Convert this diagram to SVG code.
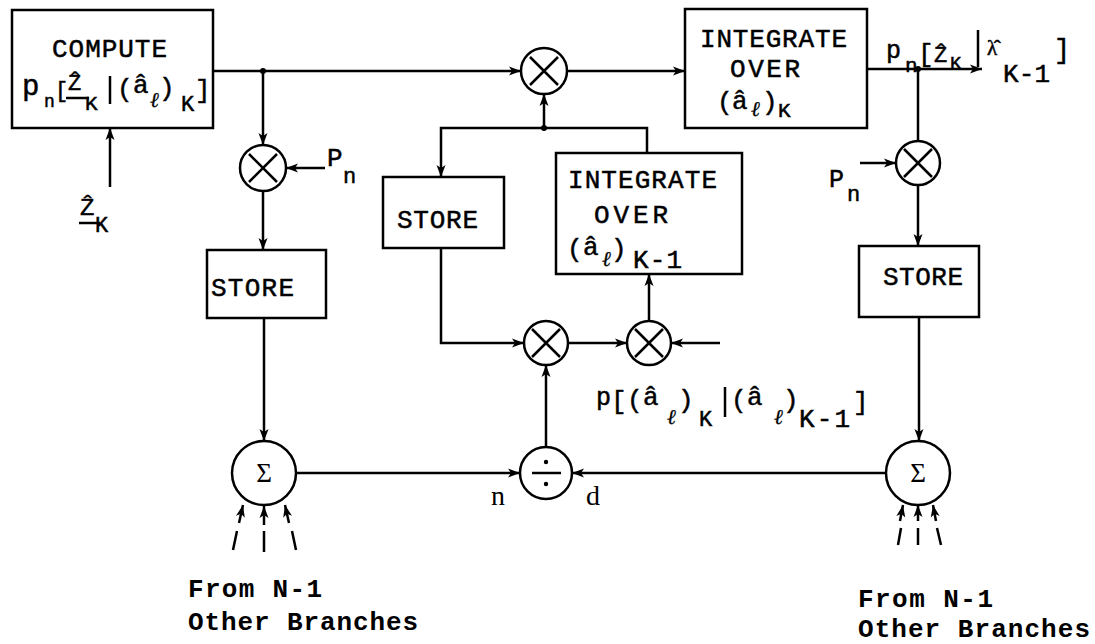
<svg xmlns="http://www.w3.org/2000/svg" width="1095" height="644" viewBox="0 0 1095 644">
<defs>
<marker id="ah" markerUnits="userSpaceOnUse" markerWidth="13" markerHeight="10" refX="12" refY="5" orient="auto" viewBox="0 0 13 10">
<path d="M0,0.5 L12,5 L0,9.5 L3,5 z" fill="#000"/>
</marker>
<style>
.bx{fill:#fff;stroke:#000;stroke-width:2.5}
.c{fill:#fff;stroke:#000;stroke-width:2.5}
.x{stroke:#000;stroke-width:2.5;fill:none}
.ln{fill:none;stroke:#000;stroke-width:2.5}
.t{font-family:"Liberation Mono","DejaVu Sans Mono",monospace;font-size:26px;fill:#000;stroke:#000;stroke-width:0.5}
.l{font-family:"Liberation Serif","DejaVu Serif",serif;font-style:italic;font-size:21px;stroke-width:0.3}
.sr{font-family:"Liberation Serif","DejaVu Serif",serif;font-size:28px;fill:#000}
.g{font-family:"Liberation Serif","DejaVu Serif",serif;font-size:27px;fill:#000}
.bt{font-family:"Liberation Mono","DejaVu Sans Mono",monospace;font-size:26px;font-weight:bold;fill:#000}
</style>
</defs>
<rect width="1095" height="644" fill="#fff"/>

<g id="connectors">
<path class="ln" d="M213,71 H521" marker-end="url(#ah)"/>
<path class="ln" d="M263,71 V145" marker-end="url(#ah)"/>
<path class="ln" d="M325,168 H286" marker-end="url(#ah)"/>
<path class="ln" d="M263,191 V250" marker-end="url(#ah)"/>
<path class="ln" d="M264,318 V441" marker-end="url(#ah)"/>
<path class="ln" d="M296,473 H520" marker-end="url(#ah)"/>
<path class="ln" d="M886,473 H572" marker-end="url(#ah)"/>
<path class="ln" d="M546,447 V365" marker-end="url(#ah)"/>
<path class="ln" d="M441,248 V343 H524" marker-end="url(#ah)"/>
<path class="ln" d="M567,343 H627" marker-end="url(#ah)"/>
<path class="ln" d="M649,321 V274" marker-end="url(#ah)"/>
<path class="ln" d="M720,343 H671" marker-end="url(#ah)"/>
<path class="ln" d="M647,153 V128 H441 V177" marker-end="url(#ah)"/>
<path class="ln" d="M544,128 V94" marker-end="url(#ah)"/>
<path class="ln" d="M567,71 H685" marker-end="url(#ah)"/>
<path class="ln" d="M867,69 H982" marker-end="url(#ah)"/>
<path class="ln" d="M918,69 V141"/>
<path class="ln" d="M860,163 H896" marker-end="url(#ah)"/>
<path class="ln" d="M918,185 V246" marker-end="url(#ah)"/>
<path class="ln" d="M919,317 V441" marker-end="url(#ah)"/>
<path class="ln" d="M110,187 V128" marker-end="url(#ah)"/>
<path class="ln" d="M239,523 L243,505" marker-end="url(#ah)"/>
<path class="ln" d="M264,525 V506" marker-end="url(#ah)"/>
<path class="ln" d="M289,523 L285,505" marker-end="url(#ah)"/>
<path class="ln" d="M233,550 L237,531 M264,531 V552 M296,550 L292,531"/>
<path class="ln" d="M900,521 L903,505" marker-end="url(#ah)"/>
<path class="ln" d="M918,521 V505" marker-end="url(#ah)"/>
<path class="ln" d="M936,521 L933,505" marker-end="url(#ah)"/>
<path class="ln" d="M898,545 L901,528 M918,528 V545 M937,528 L941,545"/>
<circle cx="263" cy="71" r="3"/>
<circle cx="544" cy="128" r="3"/>
<circle cx="918" cy="69" r="3"/>
</g>

<g id="compute">
<rect class="bx" x="12" y="10" width="201" height="118"/>
<text class="t" x="52" y="57" textLength="115" lengthAdjust="spacing">COMPUTE</text>
<text class="t"><tspan x="22" y="95" font-size="29">p</tspan><tspan x="44" y="107" font-size="18">n</tspan><tspan x="55" y="97" font-size="22">[</tspan><tspan x="68" y="90" font-size="22">Ẑ</tspan><tspan x="85" y="110" font-size="21">K</tspan><tspan x="117" y="97">(</tspan><tspan x="133" y="93">â</tspan><tspan class="l" x="150" y="107">ℓ</tspan><tspan x="159" y="96">)</tspan><tspan x="181" y="111" font-size="22">K</tspan><tspan x="195" y="98">]</tspan></text>
<line class="ln" x1="66" y1="98" x2="89" y2="98" stroke-width="2"/>
<line class="ln" x1="110" y1="76" x2="110" y2="104" stroke-width="2"/>
</g>

<g id="z-input">
<text class="t"><tspan x="80" y="215" font-size="24">Ẑ</tspan><tspan x="95" y="232" font-size="22">K</tspan></text>
<line class="ln" x1="79" y1="223" x2="100" y2="223" stroke-width="2"/>
</g>

<g id="mult-left">
<circle class="c" cx="263" cy="168" r="23"/>
<path class="x" d="M249,154 L277,182 M277,154 L249,182"/>
<text class="t"><tspan x="327" y="166" font-size="26">P</tspan><tspan x="343" y="183" font-size="22">n</tspan></text>
</g>

<g id="store-left">
<rect class="bx" x="207" y="250" width="119" height="68"/>
<text class="t" x="211" y="296" textLength="83" lengthAdjust="spacing">STORE</text>
</g>

<g id="sum-left">
<circle class="c" cx="264" cy="473" r="32"/>
<text class="g" x="264" y="482" text-anchor="middle">Σ</text>
<text class="bt" x="188" y="597" textLength="134" lengthAdjust="spacing">From N-1</text>
<text class="bt" x="188" y="630" textLength="230" lengthAdjust="spacing">Other Branches</text>
</g>

<g id="mult-top">
<circle class="c" cx="544" cy="71" r="23"/>
<path class="x" d="M530,57 L558,85 M558,57 L530,85"/>
</g>

<g id="store-mid">
<rect class="bx" x="383" y="177" width="121" height="71"/>
<text class="t" x="397" y="228" textLength="81" lengthAdjust="spacing">STORE</text>
</g>

<g id="integrate-mid">
<rect class="bx" x="556" y="153" width="186" height="121"/>
<text class="t" x="568" y="188" textLength="149" lengthAdjust="spacing">INTEGRATE</text>
<text class="t" x="594" y="223" textLength="74" lengthAdjust="spacing">OVER</text>
<text class="t"><tspan x="567" y="257">(</tspan><tspan x="583" y="255">â</tspan><tspan class="l" x="602" y="266">ℓ</tspan><tspan x="611" y="257">)</tspan><tspan x="633" y="268" textLength="49" lengthAdjust="spacing">K-1</tspan></text>
</g>

<g id="integrate-top">
<rect class="bx" x="685" y="9" width="182" height="119"/>
<text class="t" x="700" y="47" textLength="147" lengthAdjust="spacing">INTEGRATE</text>
<text class="t" x="730" y="77" font-size="24" textLength="70" lengthAdjust="spacing">OVER</text>
<text class="t" font-size="24"><tspan x="717" y="110">(</tspan><tspan x="732" y="109">â</tspan><tspan class="l" x="751" y="116">ℓ</tspan><tspan x="762" y="110">)</tspan><tspan x="778" y="117" font-size="21">K</tspan></text>
</g>

<g id="output-label">
<text class="t"><tspan x="886" y="58" font-size="25">p</tspan><tspan x="905" y="72" font-size="21">n</tspan><tspan x="918" y="62">[</tspan><tspan x="934" y="62" font-size="22">Ẑ</tspan><tspan x="950" y="69" font-size="19">K</tspan><tspan x="987" y="55" font-family="Liberation Serif, DejaVu Serif, serif" font-size="21">λ̂</tspan><tspan x="1003" y="82" textLength="47" lengthAdjust="spacing">K-1</tspan><tspan x="1054" y="58" font-size="27">]</tspan></text>
<line class="ln" x1="978" y1="30" x2="978" y2="67" stroke-width="2"/>
</g>

<g id="mult-right">
<circle class="c" cx="918" cy="163" r="22"/>
<path class="x" d="M904,149 L932,177 M932,149 L904,177"/>
<text class="t"><tspan x="829" y="187" font-size="25">P</tspan><tspan x="847" y="201" font-size="22">n</tspan></text>
</g>

<g id="store-right">
<rect class="bx" x="859" y="246" width="120" height="71"/>
<text class="t" x="883" y="285" textLength="80" lengthAdjust="spacing">STORE</text>
</g>

<g id="sum-right">
<circle class="c" cx="918" cy="473" r="32"/>
<text class="g" x="918" y="482" text-anchor="middle">Σ</text>
<text class="bt" x="858" y="607" textLength="135" lengthAdjust="spacing">From N-1</text>
<text class="bt" x="858" y="637" textLength="232" lengthAdjust="spacing">Other Branches</text>
</g>

<g id="mult-b1">
<circle class="c" cx="546" cy="343" r="22"/>
<path class="x" d="M532,329 L560,357 M560,329 L532,357"/>
</g>

<g id="mult-b2">
<circle class="c" cx="649" cy="343" r="22"/>
<path class="x" d="M635,329 L663,357 M663,329 L635,357"/>
</g>

<g id="transition-label">
<text class="t"><tspan x="596" y="405" font-size="25">p</tspan><tspan x="611" y="409">[</tspan><tspan x="627" y="408">(</tspan><tspan x="643" y="405">â</tspan><tspan class="l" x="667" y="424">ℓ</tspan><tspan x="678" y="408">)</tspan><tspan x="699" y="426" font-size="22">K</tspan><tspan x="731" y="408">(</tspan><tspan x="747" y="405">â</tspan><tspan class="l" x="774" y="424">ℓ</tspan><tspan x="783" y="408">)</tspan><tspan x="799" y="427" textLength="51" lengthAdjust="spacing">K-1</tspan><tspan x="853" y="410">]</tspan></text>
<line class="ln" x1="725" y1="387" x2="725" y2="417" stroke-width="2"/>
</g>

<g id="divider">
<circle class="c" cx="546" cy="473" r="26"/>
<line class="ln" x1="532" y1="473" x2="561" y2="473" stroke-width="3"/>
<circle cx="546" cy="462" r="2.2"/>
<circle cx="546" cy="484" r="2.2"/>
<text class="sr" x="491" y="505">n</text>
<text class="sr" x="586" y="505">d</text>
</g>
</svg>
